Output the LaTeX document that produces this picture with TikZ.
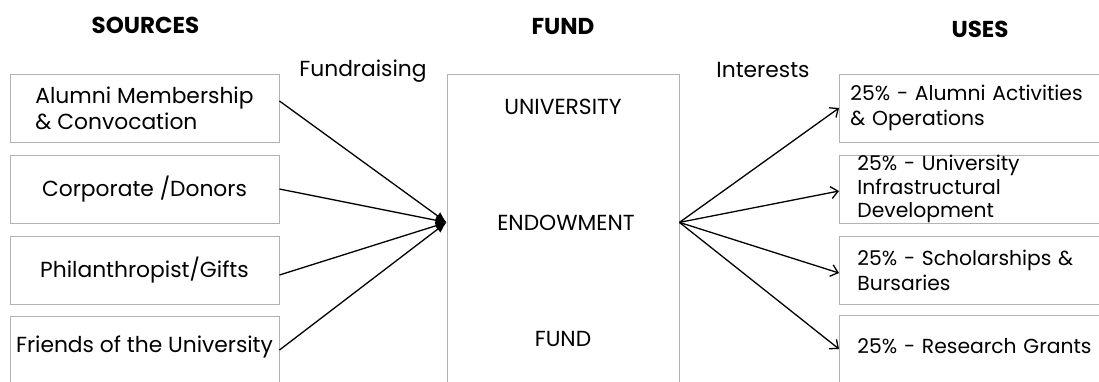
\documentclass[tikz,border=0pt]{standalone}
\usepackage{fontspec}
\setmainfont{Poppins}
\usetikzlibrary{arrows.meta}

\begin{document}
\begin{tikzpicture}[x=1pt, y=-1pt,
  box/.style={draw=gray!60, line width=0.9pt, minimum height=68pt, inner sep=0pt,
    font=\fontsize{21.8}{26}\selectfont},
  src/.style={box, minimum width=269pt, align=center},
  use/.style={box, anchor=west, minimum width=300pt, text width=264pt, align=left,
    font=\fontsize{20.3}{25}\selectfont},
  head/.style={anchor=base, font=\fontsize{23}{27}\selectfont\bfseries},
  tag/.style={anchor=base, font=\fontsize{21.8}{26}\selectfont},
  feed/.style={line width=1.3pt, -{Latex[length=11pt,width=9pt]}},
  share/.style={line width=1.3pt, -{Straight Barb[length=7pt,width=12pt]}}]
\clip (0,0) rectangle (1099,381);
\fill[white] (0,0) rectangle (1099,381);

% column titles
\node[head] (hsrc) at (145.5,33) {SOURCES};
\node[head] (hfund) at (563,34) {FUND};
\node[head] (huse) at (980,37) {USES};
\node[tag] (raise) at (363,76) {Fundraising};
\node[tag] (gain) at (763,77) {Interests};

% sources
\node[src, align=left] (src1) at (144.5,108) {Alumni Membership\\\& Convocation};
\node[src] (src2) at (144.5,189) {Corporate /Donors};
\node[src] (src3) at (144.5,270) {Philanthropist/Gifts};
\node[src, text depth=12pt] (src4) at (144.5,350) {Friends of the University};

% the fund
\node[box, minimum width=232pt, minimum height=311pt] (fund) at (563,229.5) {};
\node[tag] (univ) at (563,114) {UNIVERSITY};
\node[tag] (endow) at (566,230) {ENDOWMENT};
\node[tag] (fundw) at (563,346) {FUND};

% uses
\node[use, text width=278pt] (use1) at (839,108) {25\% - Alumni Activities\\\& Operations};
\node[use, font=\fontsize{20.3}{23.5}\selectfont] (use2) at (839,189) {25\% - University\\Infrastructural\\Development};
\node[use] (use3) at (839,270) {25\% - Scholarships \&\\Bursaries};
\node[use, text depth=6pt] (use4) at (839,349) {25\% - Research Grants};

\draw[feed] ([yshift=7pt]src1.east) -- (fund.west |- endow);
\draw[feed] (src2.east) -- (fund.west |- endow);
\draw[feed] ([yshift=-5pt]src3.east) -- (fund.west |- endow);
\draw[feed] (src4.east) -- (fund.west |- endow);

\draw[share] (fund.east |- endow) -- (use1.west);
\draw[share] (fund.east |- endow) -- ([yshift=-2pt]use2.west);
\draw[share] (fund.east |- endow) -- ([yshift=-3pt]use3.west);
\draw[share] (fund.east |- endow) -- (use4.west);
\end{tikzpicture}
\end{document}
